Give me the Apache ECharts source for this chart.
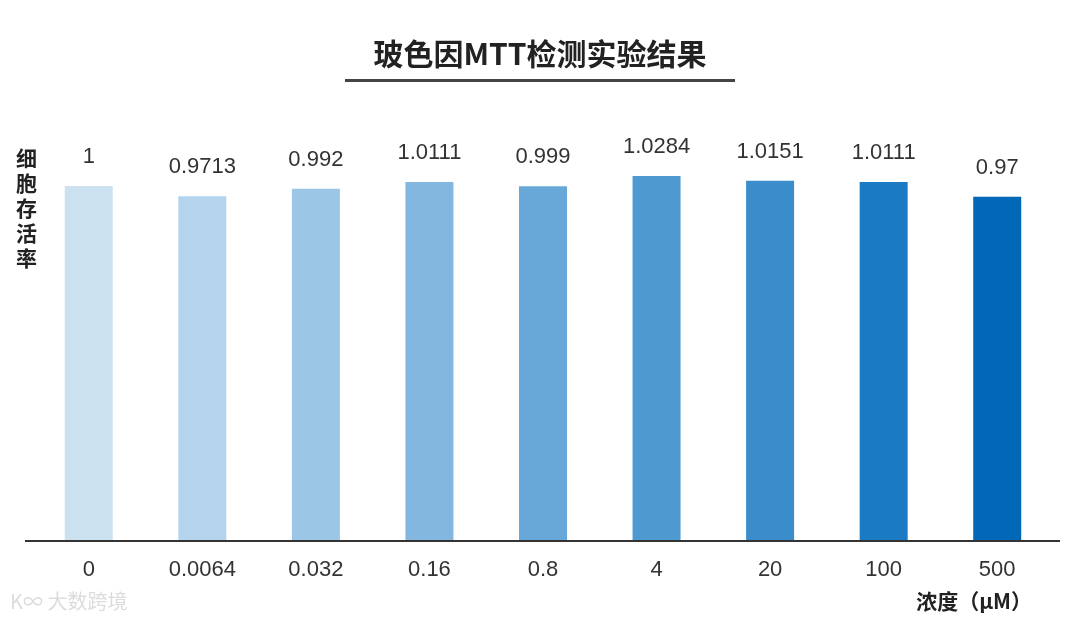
<!DOCTYPE html>
<html>
<head>
<meta charset="utf-8">
<script src="https://cdn.jsdelivr.net/npm/echarts@6/dist/echarts.min.js"></script>
<style>html,body{margin:0;padding:0;background:#fff;}#c{width:1080px;height:625px;}</style>
</head>
<body>
<div id="c"></div>
<script>
const categories = ['0', '0.0064', '0.032', '0.16', '0.8', '4', '20', '100', '500'];
const values = [1, 0.9713, 0.992, 1.0111, 0.999, 1.0284, 1.0151, 1.0111, 0.97];
const barColors = ['#cce1f0', '#b3d4ec', '#9cc6e6', '#83b7e0', '#68a8d8', '#4e9ad0', '#3a8ccb', '#1a7bc4', '#0068b7'];
const titleText = '玻色因MTT检测实验结果';
const yName = '细胞存活率';
const xName = '浓度（μM）';

const chart = echarts.init(document.getElementById('c'));
chart.setOption({
  backgroundColor: '#ffffff',
  animation: false,
  title: {
    text: titleText,
    left: 'center',
    top: 34,
    textStyle: { fontSize: 30, fontWeight: 'bold', color: '#222', fontFamily: 'Noto Sans CJK SC' }
  },
  grid: { left: 32, right: 26, top: 115, bottom: 84 },
  xAxis: {
    type: 'category',
    data: categories,
    axisLine: { show: false },
    axisTick: { show: false },
    axisLabel: { fontSize: 22, color: '#333', margin: 18, fontFamily: 'Liberation Sans' }
  },
  yAxis: {
    type: 'value',
    min: 0,
    max: 1.2,
    show: false
  },
  series: [{
    type: 'bar',
    barWidth: 48,
    data: values.map((v, i) => ({ value: v, itemStyle: { color: barColors[i] } })),
    label: {
      show: true,
      position: 'top',
      distance: 18,
      fontSize: 22,
      color: '#333',
      fontFamily: 'Liberation Sans'
    }
  }],
  graphic: [
    { type: 'rect', shape: { x: 345, y: 79, width: 390, height: 3 }, style: { fill: '#444' } },
    { type: 'rect', z: 10, shape: { x: 25, y: 540, width: 1035, height: 2 }, style: { fill: '#333' } },
    { type: 'text', left: 16, top: 146, style: { text: yName.split('').join('\n'), fontSize: 21, fontWeight: 'bold', lineHeight: 25, fill: '#222', fontFamily: 'Noto Sans CJK SC' } },
    { type: 'text', right: 48, top: 591, style: { text: xName, fontSize: 21, fontWeight: 'bold', fill: '#222', fontFamily: 'Noto Sans CJK SC' } },
    { type: 'text', left: 10, top: 591, style: { text: 'K∞ 大数跨境', fontSize: 20, fill: '#dcdcdc', fontFamily: 'Noto Sans CJK SC' } }
  ]
});
</script>
</body>
</html>
